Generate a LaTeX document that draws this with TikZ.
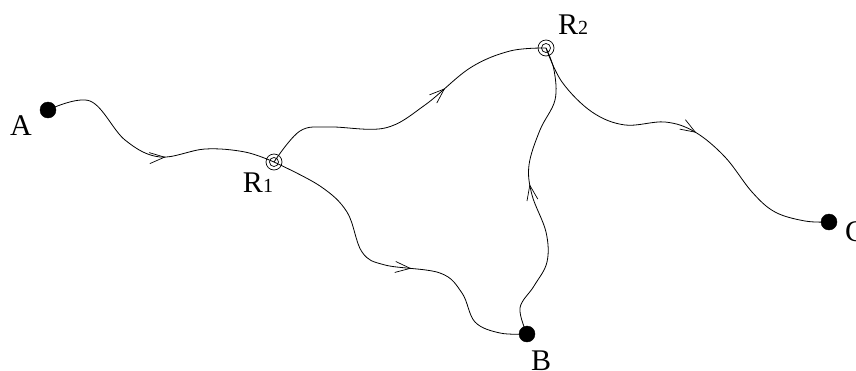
\documentclass[tikz,border=0pt]{standalone}
\usepackage{fontspec}
\setmainfont{Liberation Serif}
\usetikzlibrary{arrows.meta,decorations.markings}
\tikzset{
  dot/.style={circle,fill=black,draw=black,minimum size=16pt,inner sep=0pt},
  router/.style={circle,draw=black,minimum size=16pt,inner sep=0pt,line width=0.7pt,
     path picture={\draw[line width=0.7pt] (path picture bounding box.center) circle (4.5pt);}},
  lbl/.style={font=\fontsize{30}{30}\selectfont,inner sep=0pt},
  wire/.style={line width=0.8pt,smooth,tension=0.6},
  midarrow/.style={postaction={decorate},decoration={markings,
     mark=at position #1 with {\arrow{Straight Barb[length=15pt,width=11pt,line width=0.7pt]}}}}
}
\newcommand{\sml}[1]{{\fontsize{20}{20}\selectfont #1}}
\begin{document}
\begin{tikzpicture}[x=1pt,y=-1pt]
\useasboundingbox (0,0) rectangle (856,370);
\node[dot] (A) at (48,110) {};
\node[router] (R1) at (274,162) {};
\node[router] (R2) at (546,48) {};
\node[dot] (B) at (527,334) {};
\node[dot] (C) at (829,222) {};
\node[lbl] (lA) at (21,126) {A};
\node[lbl] (lR1) at (258,183) {R\sml{1}};
\node[lbl] (lR2) at (573,25) {R\sml{2}};
\node[lbl] (lB) at (541,361) {B};
\node[lbl,anchor=west] (lC) at (845,232) {C};
% A -> R1
\draw[wire,midarrow=0.56] plot coordinates {(A.center) (90,101) (125,140) (160,157) (205,149) (245,152) (R1.center)};
% R1 -> R2 upper
\draw[wire,midarrow=0.64] plot coordinates {(R1.center) (300,131) (330,127) (385,128) (425,105) (470,68) (510,51) (R2.center)};
% R1 -> B
\draw[wire,midarrow=0.56] plot coordinates {(R1.center) (320,186) (347,212) (362,252) (385,265) (440,273) (462,293) (475,322) (500,333) (B.center)};
% B -> R2
\draw[wire,midarrow=0.53] plot coordinates {(B.center) (520,308) (534,286) (547,262) (546,232) (532,195) (529,165) (540,130) (555,100) (554,70) (R2.center)};
% R2 -> C
\draw[wire,midarrow=0.53] plot coordinates {(R2.center) (562,82) (592,112) (625,125) (665,122) (695,132) (725,157) (752,192) (775,212) (805,221) (C.center)};
\end{tikzpicture}
\end{document}
